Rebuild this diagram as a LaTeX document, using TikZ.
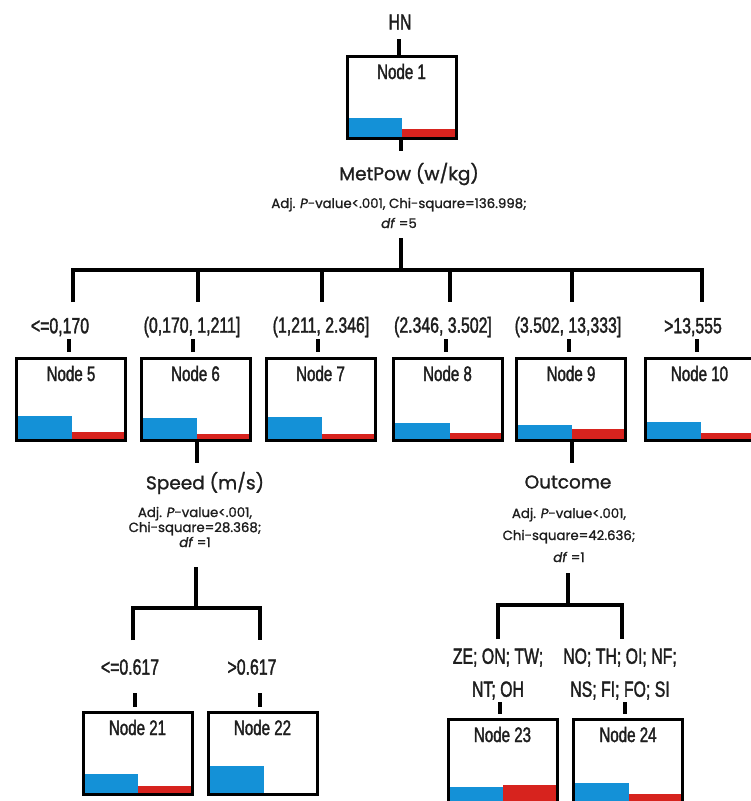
\documentclass[tikz,border=0pt]{standalone}
\usepackage{fontspec}
\setmainfont{Liberation Sans}
\newfontfamily\condfont{Liberation Sans}[FakeStretch=0.72,FakeBold=1.6]
\newfontfamily\geofont{Poppins}[FakeBold=1.2]
\usetikzlibrary{calc}
\definecolor{barblue}{RGB}{20,145,215}
\definecolor{barred}{RGB}{215,35,30}
\definecolor{ink}{RGB}{30,30,30}
\begin{document}
\begin{tikzpicture}[x=1pt,y=-1pt,
  treebox/.style={draw=black, line width=3pt, minimum width=109pt, minimum height=82pt, inner sep=0pt},
  conn/.style={draw=black, line width=3.5pt},
  nlab/.style={text=ink, font=\condfont\fontsize{21}{24}\selectfont, inner sep=0pt},
  slab/.style={text=ink, font=\condfont\fontsize{22}{33}\selectfont, inner sep=0pt, align=center},
  ttl/.style={text=ink, font=\geofont\fontsize{18.5}{22}\selectfont, inner sep=0pt},
  stat/.style={text=ink, font=\geofont\fontsize{13.3}{15}\selectfont, inner sep=0pt, align=center},
  hb/.style={fill=barblue},
  hr/.style={fill=barred}]
\useasboundingbox (0,0) rectangle (751,801);

% ---------- histogram bars ----------
\fill[hb] (347,138) rectangle (402,118); \fill[hr] (402,138) rectangle (456,129);
\fill[hb] (17,441) rectangle (72,416);   \fill[hr] (72,441) rectangle (125,432);
\fill[hb] (141,441) rectangle (197,418); \fill[hr] (197,441) rectangle (250,434);
\fill[hb] (266,441) rectangle (322,417); \fill[hr] (322,441) rectangle (375,434);
\fill[hb] (393,441) rectangle (450,423); \fill[hr] (450,441) rectangle (502,433);
\fill[hb] (516,441) rectangle (572,425); \fill[hr] (572,441) rectangle (626,429);
\fill[hb] (645,441) rectangle (701,422); \fill[hr] (701,441) rectangle (754,433);
\fill[hb] (83,794) rectangle (138,774);  \fill[hr] (138,794) rectangle (192,786);
\fill[hb] (208,794) rectangle (264,766);
\fill[hb] (448,803) rectangle (503,787); \fill[hr] (503,803) rectangle (557,785);
\fill[hb] (574,803) rectangle (629,783); \fill[hr] (629,803) rectangle (682,794);

% ---------- boxes ----------
\node[treebox] (n1)  at (401.5,97) {};
\node[treebox] (n5)  at (71,399) {};
\node[treebox] (n6)  at (195.5,399) {};
\node[treebox] (n7)  at (320.5,399) {};
\node[treebox] (n8)  at (447.5,399) {};
\node[treebox] (n9)  at (571,399) {};
\node[treebox] (n10) at (699.5,399) {};
\node[treebox] (n21) at (137.5,753) {};
\node[treebox] (n22) at (262.5,753) {};
\node[treebox, minimum height=84pt] (n23) at (502.5,761) {};
\node[treebox, minimum height=84pt] (n24) at (628,761) {};

\foreach \n/\t in {1/Node 1,5/Node 5,6/Node 6,7/Node 7,8/Node 8,9/Node 9,10/Node 10,21/Node 21,22/Node 22,23/Node 23,24/Node 24}
  \node[nlab] (t\n) at ($(n\n.north)+(0,17)$) {\t};

% ---------- root ----------
\node[slab] (hn) at (400,22) {HN};
\coordinate (hna) at (399,39);
\draw[conn] (hna) -- (hna |- n1.north);
\coordinate (m1a) at (401,151);
\draw[conn] (n1.south -| m1a) -- (m1a);
\node[ttl] (ti1) at (409,174) {MetPow (w/kg)};
\node[stat, font=\geofont\fontsize{13.3}{20}\selectfont] (st1) at (399,213) {Adj. \textit{P}-value<.001, Chi-square=136.998;\\\textit{df} =5};
\coordinate (m1b) at (401,238);
\coordinate (b1) at (401,270);
\draw[conn] (m1b) -- (b1);

\foreach \n/\x in {5/73,6/198,7/322,8/450,9/572,10/702}{
  \coordinate (d\n) at (\x,270);
  \coordinate (e\n) at (\x,302);
}
\draw[conn] (e5) -- (d5) -- (d10) -- (e10);
\foreach \n in {6,7,8,9} \draw[conn] (d\n) -- (e\n);

\node[slab] (l5)  at (60,327)  {<=0,170};
\node[slab] (l6)  at (192,327) {(0,170, 1,211]};
\node[slab] (l7)  at (321,327) {(1,211, 2.346]};
\node[slab] (l8)  at (443,327) {(2.346, 3.502]};
\node[slab] (l9)  at (568,327) {(3.502, 13,333]};
\node[slab] (l10) at (693,327) {>13,555};

\foreach \n/\x in {5/69,6/193,7/318,8/446,9/569,10/697}{
  \coordinate (s\n) at (\x,339);
  \coordinate (u\n) at (\x,352);
  \draw[conn] (s\n) -- (u\n);
}

% ---------- Speed subtree ----------
\coordinate (m6a) at (197,463);
\draw[conn] (n6.south -| m6a) -- (m6a);
\node[ttl] (ti6) at (205,483) {Speed (m/s)};
\node[stat] (st6) at (195,527) {Adj. \textit{P}-value<.001,\\Chi-square=28.368;\\\textit{df} =1};
\coordinate (m6c) at (196,567);
\coordinate (b6) at (196,608);
\draw[conn] (m6c) -- (b6);
\coordinate (d21) at (133,608); \coordinate (e21) at (133,640);
\coordinate (d22) at (260,608); \coordinate (e22) at (260,640);
\draw[conn] (e21) -- (d21) -- (d22) -- (e22);
\node[slab] (l21) at (130,667) {<=0.617};
\node[slab] (l22) at (252,667) {>0.617};
\coordinate (s21) at (135,693); \coordinate (u21) at (135,707);
\coordinate (s22) at (260,693); \coordinate (u22) at (260,707);
\draw[conn] (s21) -- (u21);
\draw[conn] (s22) -- (u22);

% ---------- Outcome subtree ----------
\coordinate (m9a) at (572,463);
\draw[conn] (n9.south -| m9a) -- (m9a);
\node[ttl] (ti9) at (568,482) {Outcome};
\node[stat, font=\geofont\fontsize{13.3}{22}\selectfont] (st9) at (569,535) {Adj. \textit{P}-value<.001,\\Chi-square=42.636;\\\textit{df} =1};
\coordinate (m9c) at (568,573);
\coordinate (b9) at (568,605);
\draw[conn] (m9c) -- (b9);
\coordinate (d23) at (498,605); \coordinate (e23) at (498,639);
\coordinate (d24) at (622,605); \coordinate (e24) at (622,639);
\draw[conn] (e23) -- (d23) -- (d24) -- (e24);
\node[slab] (l23) at (498,674) {ZE; ON; TW;\\NT; OH};
\node[slab] (l24) at (620,674) {NO; TH; OI; NF;\\NS; FI; FO; SI};
\coordinate (s23) at (500,702); \coordinate (u23) at (500,714);
\coordinate (s24) at (625,702); \coordinate (u24) at (625,714);
\draw[conn] (s23) -- (u23);
\draw[conn] (s24) -- (u24);
\end{tikzpicture}
\end{document}
